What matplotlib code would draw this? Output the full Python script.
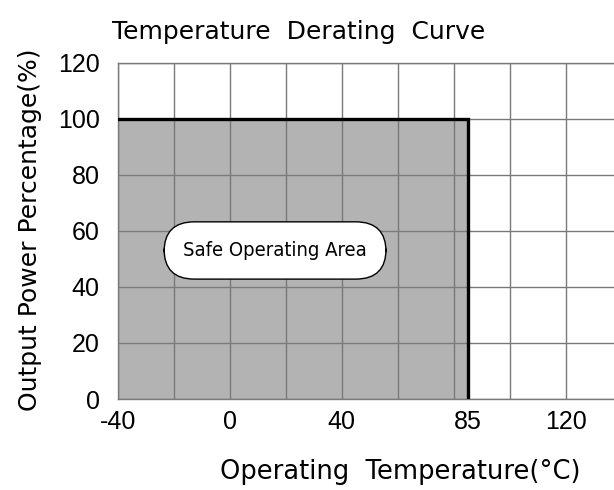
import numpy as np
import matplotlib.pyplot as plt

# Derating curve data
temp = [-40, 85, 85]
power = [100, 100, 0]

x_ticks = [-40, 0, 40, 85, 120]
y_ticks = [0, 20, 40, 60, 80, 100, 120]
grid_x = list(range(-40, 140, 20))
grid_y = list(range(0, 140, 20))

fig = plt.figure(figsize=(6.14, 4.9), dpi=100)
ax = fig.add_axes([117.7 / 614, 91 / 490, (614 - 117.7) / 614, (399 - 62.7) / 490])

ax.set_xlim(-40, 137.25)
ax.set_ylim(0, 120)

# safe operating area
ax.fill_between(temp[:2], 0, power[:2], color="#b3b3b3", zorder=1)
ax.plot(temp, power, color="black", lw=2.4, zorder=4, solid_joinstyle="miter")

# grid
for gx in grid_x:
    ax.axvline(gx, color="#7a7a7a", lw=1.0, zorder=2)
for gy in grid_y:
    ax.axhline(gy, color="#7a7a7a", lw=1.0, zorder=2)

ax.tick_params(which="both", length=0)
ax.set_xticks(x_ticks)
ax.set_yticks(y_ticks)
ax.set_xticklabels([str(v) for v in x_ticks], fontsize=18, family="Liberation Sans")
ax.set_yticklabels([str(v) for v in y_ticks], fontsize=18, family="Liberation Sans")
ax.tick_params(axis="x", pad=8)
ax.tick_params(axis="y", pad=13)

for side in ["left", "bottom", "top"]:
    ax.spines[side].set_color("#7a7a7a")
    ax.spines[side].set_linewidth(1.0)
ax.spines["right"].set_visible(False)

ax.text(16.2, 53, "Safe Operating Area", ha="center", va="center", fontsize=14.5,
        family="DejaVu Sans", fontstretch="condensed", zorder=5,
        bbox=dict(boxstyle="round,pad=0.95,rounding_size=1.5", fc="white", ec="black", lw=1.0))

fig.text(299 / 614, 1 - 32 / 490, "Temperature  Derating  Curve", ha="center", va="center",
         fontsize=18)
fig.text(400 / 614, 1 - 472 / 490, "Operating  Temperature(°C)", ha="center", va="center",
         fontsize=18.5)
fig.text(30 / 614, 1 - 230 / 490, "Output Power Percentage(%)", ha="center", va="center",
         rotation=90, fontsize=18)

plt.savefig("out.png", dpi=100)
